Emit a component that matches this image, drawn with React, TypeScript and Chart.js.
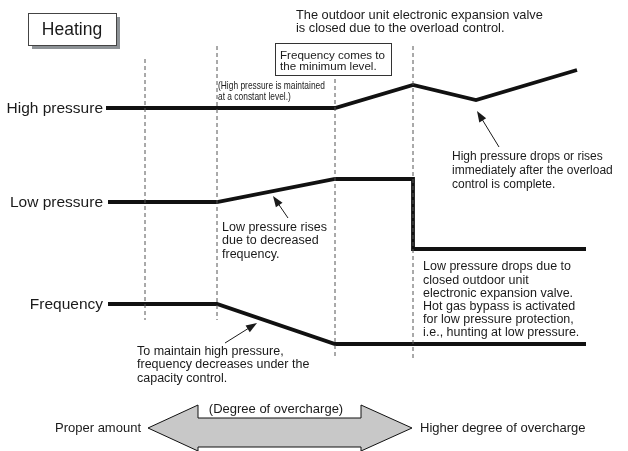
import React, { useEffect, useRef } from "react";
import { Chart, registerables } from "chart.js";

Chart.register(...registerables);

// ---- Data (diagram units: x = time progression, y = level, top = 0) ----
const highPressureX = [106, 335, 413, 476, 577];
const highPressureY = [108, 108, 85, 100, 70];
const lowPressureX = [108, 217, 335, 413, 413, 586];
const lowPressureY = [202, 202, 179, 179, 249, 249];
const frequencyX = [108, 217, 335, 586];
const frequencyY = [304, 304, 344, 344];

const dividerX = [145, 217, 335, 413];
const dividerTop = [59, 46, 79, 46];
const dividerBottom = [320, 320, 358, 360];

const seriesLabels = ["High pressure", "Low pressure", "Frequency"];
const titleText = "Heating";
const topNote = ["The outdoor unit electronic expansion valve", "is closed due to the overload control."];
const minFreqNote = ["Frequency comes to", "the minimum level."];
const hpHoldNote = ["(High pressure is maintained", "at a constant level.)"];
const hpAfterNote = ["High pressure drops or rises", "immediately after the overload", "control is complete."];
const lpRiseNote = ["Low pressure rises", "due to decreased", "frequency."];
const lpDropNote = [
  "Low pressure drops due to",
  "closed outdoor unit",
  "electronic expansion valve.",
  "Hot gas bypass is activated",
  "for low pressure protection,",
  "i.e., hunting at low pressure.",
];
const freqNote = ["To maintain high pressure,", "frequency decreases under the", "capacity control."];
const scaleLeft = "Proper amount";
const scaleMid = "(Degree of overcharge)";
const scaleRight = "Higher degree of overcharge";

// annotation arrows: [fromX, fromY, toX, toY]
const hpArrow = [499, 147, 477, 111];
const lpArrow = [288, 218, 273, 196];
const freqArrow = [225, 343, 257, 323];

// bottom double arrow: tips / head base / half-heights
const scaleArrowX = [148, 198, 361, 412];
const scaleArrowY = [405, 418, 428, 447, 451];

const FONT = '"Liberation Sans", Arial, Helvetica, sans-serif';
const INK = "#1a1a1a";

function pts(xs: number[], ys: number[]) {
  return xs.map((x, i) => ({ x, y: ys[i] }));
}

const diagramPlugin = {
  id: "diagram",
  afterDatasetsDraw(chart: any) {
    const ctx: CanvasRenderingContext2D = chart.ctx;
    const sx = chart.scales.x;
    const sy = chart.scales.y;
    const X = (v: number) => sx.getPixelForValue(v);
    const Y = (v: number) => sy.getPixelForValue(v);

    const text = (
      lines: string[],
      x: number,
      y: number,
      step: number,
      size: number,
      align: CanvasTextAlign = "left",
      squeeze = 1
    ) => {
      ctx.save();
      ctx.fillStyle = INK;
      ctx.font = `${size}px ${FONT}`;
      ctx.textAlign = align;
      ctx.textBaseline = "middle";
      lines.forEach((ln, i) => {
        ctx.save();
        ctx.translate(X(x), Y(y + i * step));
        ctx.scale(squeeze, 1);
        ctx.fillText(ln, 0, 0);
        ctx.restore();
      });
      ctx.restore();
    };

    const arrow = (a: number[]) => {
      const [x1, y1, x2, y2] = [X(a[0]), Y(a[1]), X(a[2]), Y(a[3])];
      const ang = Math.atan2(y2 - y1, x2 - x1);
      const L = 11;
      const W = 4;
      ctx.save();
      ctx.strokeStyle = INK;
      ctx.fillStyle = INK;
      ctx.lineWidth = 1;
      ctx.beginPath();
      ctx.moveTo(x1, y1);
      ctx.lineTo(x2 - Math.cos(ang) * L * 0.8, y2 - Math.sin(ang) * L * 0.8);
      ctx.stroke();
      ctx.beginPath();
      ctx.moveTo(x2, y2);
      ctx.lineTo(x2 - Math.cos(ang) * L - Math.sin(ang) * W, y2 - Math.sin(ang) * L + Math.cos(ang) * W);
      ctx.lineTo(x2 - Math.cos(ang) * L + Math.sin(ang) * W, y2 - Math.sin(ang) * L - Math.cos(ang) * W);
      ctx.closePath();
      ctx.fill();
      ctx.restore();
    };

    // Heating box with shadow
    ctx.save();
    ctx.fillStyle = "#8d9296";
    ctx.fillRect(X(32), Y(17), X(120) - X(32), Y(49) - Y(17));
    ctx.fillStyle = "#fff";
    ctx.fillRect(X(28), Y(13), X(116) - X(28), Y(45) - Y(13));
    ctx.strokeStyle = "#444";
    ctx.lineWidth = 1;
    ctx.strokeRect(X(28) + 0.5, Y(13) + 0.5, X(116) - X(28), Y(45) - Y(13));
    ctx.restore();
    text([titleText], 72, 30.5, 0, 17.5, "center");

    // Frequency minimum box
    ctx.save();
    ctx.fillStyle = "#fff";
    ctx.fillRect(X(275), Y(43), X(391) - X(275), Y(75) - Y(43));
    ctx.strokeStyle = "#333";
    ctx.lineWidth = 1;
    ctx.strokeRect(X(275) + 0.5, Y(43) + 0.5, X(391) - X(275), Y(75) - Y(43));
    ctx.restore();
    text(minFreqNote, 280, 55.5, 11.5, 11.6);

    // Series labels
    text([seriesLabels[0]], 103, highPressureY[0] + 0.5, 0, 15.5, "right");
    text([seriesLabels[1]], 103, lowPressureY[0] + 0.5, 0, 15.5, "right");
    text([seriesLabels[2]], 103, frequencyY[0] + 0.5, 0, 15.5, "right");

    // Notes
    text(topNote, 296, 15, 13.2, 12.8);
    text(hpHoldNote, 218, 86.5, 10.5, 10.5, "left", 0.8);
    text(hpAfterNote, 452, 157, 13.7, 12);
    text(lpRiseNote, 222, 227.5, 13.3, 12.5);
    text(lpDropNote, 423, 267, 13.2, 12.5);
    text(freqNote, 137, 351.5, 13.3, 12.5);

    arrow(hpArrow);
    arrow(lpArrow);
    arrow(freqArrow);

    // Bottom double arrow
    const [xl, xa, xb, xr] = scaleArrowX;
    const [hTop, bTop, mid, bBot, hBot] = scaleArrowY;
    ctx.save();
    ctx.beginPath();
    ctx.moveTo(X(xl), Y(mid));
    ctx.lineTo(X(xa), Y(hTop));
    ctx.lineTo(X(xa), Y(bTop));
    ctx.lineTo(X(xb), Y(bTop));
    ctx.lineTo(X(xb), Y(hTop));
    ctx.lineTo(X(xr), Y(mid));
    ctx.lineTo(X(xb), Y(hBot));
    ctx.lineTo(X(xb), Y(bBot));
    ctx.lineTo(X(xa), Y(bBot));
    ctx.lineTo(X(xa), Y(hBot));
    ctx.closePath();
    ctx.fillStyle = "#c8c8c8";
    ctx.fill();
    ctx.strokeStyle = "#111";
    ctx.lineWidth = 1;
    ctx.stroke();
    ctx.restore();
    text([scaleMid], 276, 409, 0, 13, "center");
    text([scaleLeft], 141, mid, 0, 13, "right");
    text([scaleRight], 420, mid, 0, 13, "left");
  },
};

export default function App() {
  const ref = useRef<HTMLCanvasElement | null>(null);

  useEffect(() => {
    if (!ref.current) return;
    const dividers = dividerX.map((x, i) => ({
      data: [
        { x, y: dividerTop[i] },
        { x, y: dividerBottom[i] },
      ],
      borderColor: "#555",
      borderWidth: 1,
      borderDash: [4, 3],
      pointRadius: 0,
      tension: 0,
    }));
    const mainLine = (xs: number[], ys: number[]) => ({
      data: pts(xs, ys),
      borderColor: "#111",
      borderWidth: 3.8,
      pointRadius: 0,
      tension: 0,
      borderJoinStyle: "miter" as const,
      borderCapStyle: "butt" as const,
    });
    const chart = new Chart(ref.current, {
      type: "line",
      data: {
        datasets: [
          ...dividers,
          mainLine(highPressureX, highPressureY),
          mainLine(lowPressureX, lowPressureY),
          mainLine(frequencyX, frequencyY),
        ] as any,
      },
      options: {
        animation: false,
        responsive: false,
        maintainAspectRatio: false,
        layout: { padding: 0 },
        plugins: { legend: { display: false }, tooltip: { enabled: false } },
        scales: {
          x: { type: "linear", min: 0, max: 628, display: false },
          y: { type: "linear", min: 0, max: 451, reverse: true, display: false },
        },
      },
      plugins: [diagramPlugin],
    });
    return () => chart.destroy();
  }, []);

  return (
    <div style={{ position: "fixed", left: 0, top: 0, width: 628, height: 451, background: "#fff" }}>
      <canvas ref={ref} width={628} height={451} style={{ display: "block" }} />
    </div>
  );
}
